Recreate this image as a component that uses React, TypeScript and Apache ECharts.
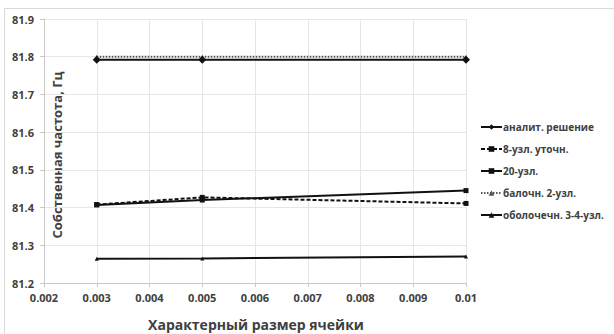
import React, { useEffect, useRef } from "react";
import * as echarts from "echarts";

const xValues = [0.003, 0.005, 0.01];
const seriesNames = ["аналит. решение", "8-узл. уточн.", "20-узл.", "балочн. 2-узл.", "оболочечн. 3-4-узл."];
const analyt = [81.792, 81.792, 81.792];
const node8 = [81.408, 81.427, 81.411];
const node20 = [81.407, 81.42, 81.445];
const beam2 = [81.8, 81.8, 81.8];
const shell34 = [81.264, 81.265, 81.27];
const yTitle = "Собственная частота, Гц";
const xTitle = "Характерный размер ячейки";

const FONT = "'Open Sans', 'Liberation Sans', sans-serif";

export default function App() {
  const ref = useRef<HTMLDivElement>(null);
  useEffect(() => {
    if (!ref.current) return;
    const chart = echarts.init(ref.current, null, { renderer: "svg" });
    const pairs = (ys: number[]) => xValues.map((x, i) => [x, ys[i]]);
    const mk = (name: string, ys: number[], lineType: any, symbol: string, symbolSize: number, width: number, color: string, z: number) => ({
      name,
      type: "line",
      data: pairs(ys),
      symbol,
      symbolSize,
      z,
      lineStyle: { color, width, type: lineType },
      itemStyle: { color },
    });
    chart.setOption({
      animation: false,
      backgroundColor: "#ffffff",
      textStyle: { fontFamily: FONT },
      grid: { left: 44, right: 148, top: 19, bottom: 51, containLabel: false },
      xAxis: {
        type: "value",
        min: 0.002,
        max: 0.01,
        interval: 0.001,
        axisLine: { show: true, lineStyle: { color: "#c8c8c8", width: 1 } },
        axisTick: { show: true, length: 4, lineStyle: { color: "#c8c8c8" } },
        axisLabel: { color: "#404040", fontSize: 11, fontWeight: "bold", fontFamily: FONT, margin: 9 },
        splitLine: { show: true, lineStyle: { color: "#e6e6e6", width: 1 } },
      },
      yAxis: {
        type: "value",
        min: 81.2,
        max: 81.9,
        interval: 0.1,
        axisLine: { show: true, lineStyle: { color: "#c8c8c8", width: 1 } },
        axisTick: { show: true, length: 4, lineStyle: { color: "#c8c8c8" } },
        axisLabel: { color: "#404040", fontSize: 11, fontWeight: "bold", fontFamily: FONT, margin: 10, formatter: (v: number) => v.toFixed(1) },
        splitLine: { show: true, lineStyle: { color: "#e6e6e6", width: 1 } },
      },
      legend: {
        orient: "vertical",
        left: 475,
        top: 117,
        itemWidth: 21,
        itemHeight: 7,
        itemGap: 12,
        data: seriesNames,
        textStyle: { color: "#404040", fontSize: 10, fontWeight: "bold", fontFamily: FONT, padding: [0, 0, 0, -4] },
      },
      graphic: [
        {
          type: "rect",
          shape: { x: 4.5, y: 8.5, width: 640, height: 400 },
          style: { fill: "none", stroke: "#d9d9d9", lineWidth: 1 },
          silent: true,
        },
        {
          type: "text",
          x: 57,
          y: 155,
          rotation: Math.PI / 2,
          style: {
            text: yTitle,
            fill: "#404040",
            font: `bold 13px ${FONT}`,
            align: "center",
            verticalAlign: "middle",
          },
        },
        {
          type: "text",
          x: 256,
          y: 324,
          style: {
            text: xTitle,
            fill: "#404040",
            font: `bold 14px ${FONT}`,
            align: "center",
            verticalAlign: "middle",
          },
        },
      ],
      series: [
        mk(seriesNames[0], analyt, "solid", "diamond", 8, 2, "#111111", 3),
        mk(seriesNames[1], node8, [4, 2], "rect", 5, 2, "#111111", 4),
        mk(seriesNames[2], node20, "solid", "rect", 5, 2, "#111111", 5),
        mk(seriesNames[3], beam2, [1.5, 1.5], "triangle", 4, 2, "#555555", 2),
        mk(seriesNames[4], shell34, "solid", "triangle", 4, 2, "#111111", 6),
      ],
    });
    return () => chart.dispose();
  }, []);
  return <div ref={ref} style={{ width: 614, height: 334, position: "absolute", left: 0, top: 0 }} />;
}
